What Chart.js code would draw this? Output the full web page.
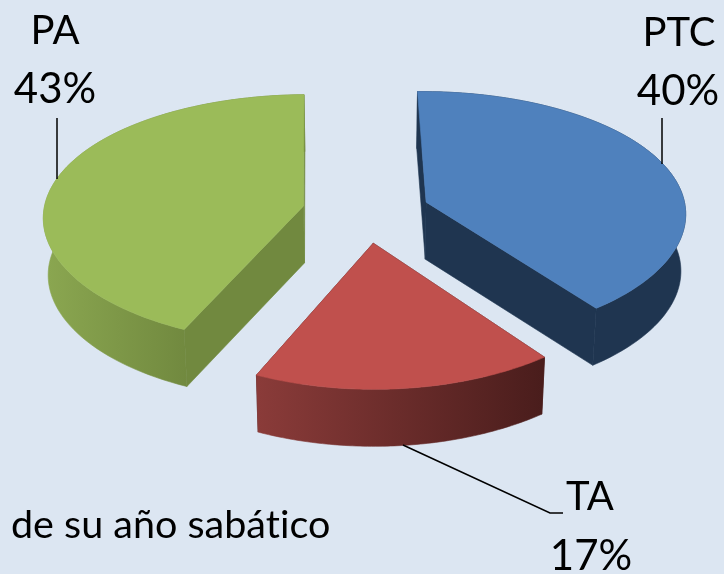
<!DOCTYPE html>
<html>
<head>
<meta charset="utf-8">
<style>
  body { margin: 0; background: #dce6f2; }
  canvas { display: block; }
</style>
<script src="https://cdn.jsdelivr.net/npm/chart.js@4"></script>
</head>
<body>
<canvas id="pieChart" width="724" height="574"></canvas>
<script>
//chart data
const categories = ["PTC", "TA", "PA"];
const shares = [40, 17, 43];
const caption = "de su año sabático";

//colours for each slice: top face, cut face, outer wall left and right
const topColors = ["#4f81bd", "#c0504d", "#9bbb59"];
const cutColors = ["#1f3550", "#4a1d1c", "#71893f"];
const wallLeft = ["#1f3550", "#8a3b39", "#8aa650"];
const wallRight = ["#1f3550", "#4a1d1c", "#71893f"];

//the fake 3d view
const tilt = 0.477; // how flat the pie is
const perspective = 0.104; // front of the pie looks bigger than the back
const perspectiveX = 0.08; // sideways the growth is a bit weaker
const wallHeight = 57;
const bottomScale = 0.985;

// takes a point on the flat pie and returns where it lands on the screen
function project(arc, radius, angle, isBottom) {
  const mid = (arc.startAngle + arc.endAngle) / 2;
  const u = Math.cos(angle) * radius + Math.cos(mid) * arc.options.offset;
  const v = Math.sin(angle) * radius + Math.sin(mid) * arc.options.offset;
  const s = 1 / (1 - (perspective * v) / arc.outerRadius);
  const sx = 1 / (1 - (perspectiveX * v) / arc.outerRadius);
  return {
    x: arc.x + u * sx * (isBottom ? bottomScale : 1),
    y: arc.y + v * tilt * s + (isBottom ? wallHeight : 0),
  };
}

function rimPoints(arc, isBottom) {
  const points = [];
  for (let i = 0; i <= 80; i++) {
    const a = arc.startAngle + ((arc.endAngle - arc.startAngle) * i) / 80;
    points.push(project(arc, arc.outerRadius, a, isBottom));
  }
  return points;
}

function fillShape(ctx, points, fill) {
  ctx.beginPath();
  points.forEach((p, i) => (i ? ctx.lineTo(p.x, p.y) : ctx.moveTo(p.x, p.y)));
  ctx.closePath();
  ctx.fillStyle = fill;
  ctx.fill();
  // thin stroke in the same colour hides the seams between faces
  ctx.strokeStyle = fill;
  ctx.lineWidth = 0.6;
  ctx.stroke();
}

function drawLine(ctx, points) {
  ctx.beginPath();
  points.forEach((p, i) => (i ? ctx.lineTo(p[0], p[1]) : ctx.moveTo(p[0], p[1])));
  ctx.strokeStyle = "#000000";
  ctx.lineWidth = 1.5;
  ctx.stroke();
}

const pie3d = {
  id: "pie3d",
  // the library works out the angles, this paints them in the tilted view
  beforeDatasetsDraw(chart) {
    const ctx = chart.ctx;
    chart.getDatasetMeta(0).data.forEach((arc, i) => {
      const top = rimPoints(arc, false);
      const bottom = rimPoints(arc, true);
      const apexTop = project(arc, 0, 0, false);
      const apexBottom = project(arc, 0, 0, true);

      // cut faces first, the wall and top go over the hidden ones
      [0, top.length - 1].forEach((end) => {
        fillShape(ctx, [apexTop, top[end], bottom[end], apexBottom], cutColors[i]);
      });

      // only the part of the wall facing us matters for the shading
      const front = bottom.filter((p) => p.y > apexBottom.y - wallHeight);
      const left = Math.min(...front.map((p) => p.x));
      const right = Math.max(...front.map((p) => p.x));
      const shade = ctx.createLinearGradient(left, 0, right, 0);
      shade.addColorStop(0, wallLeft[i]);
      shade.addColorStop(1, wallRight[i]);
      fillShape(ctx, top.concat(bottom.slice().reverse()), shade);

      fillShape(ctx, [apexTop].concat(top), topColors[i]);
    });
    return false;
  },
  afterDraw(chart) {
    const ctx = chart.ctx;
    drawLine(ctx, [[57, 118], [57, 179]]);
    drawLine(ctx, [[662, 118], [662, 164]]);
    drawLine(ctx, [[403, 445], [550, 513], [563, 513]]);

    ctx.fillStyle = "#000000";
    ctx.textBaseline = "alphabetic";
    ctx.textAlign = "center";
    ctx.font = "40px Lato";
    ctx.fillText(categories[2], 55, 44);
    ctx.fillText(categories[0], 679, 46);
    ctx.fillText(categories[1], 590, 510);
    ctx.font = "42px Lato";
    ctx.fillText(shares[2] + "%", 55, 103);
    ctx.fillText(shares[0] + "%", 678, 105);
    ctx.fillText(shares[1] + "%", 591, 570);
    ctx.textAlign = "left";
    ctx.font = "39.5px Lato";
    // no "ti" ligature in the caption
    ctx.textRendering = "optimizeSpeed";
    ctx.fillText(caption, 11, 538);
  },
};

new Chart(document.getElementById("pieChart"), {
  type: "pie",
  data: {
    labels: categories,
    datasets: [
      {
        data: shares,
        backgroundColor: topColors,
        borderWidth: 0,
        offset: 64,
      },
    ],
  },
  options: {
    responsive: false,
    animation: false,
    rotation: -1,
    radius: 260,
    layout: { padding: { left: 8, bottom: 150 } },
    events: [],
    plugins: {
      legend: { display: false },
      tooltip: { enabled: false },
    },
  },
  plugins: [pie3d],
});
</script>
</body>
</html>
